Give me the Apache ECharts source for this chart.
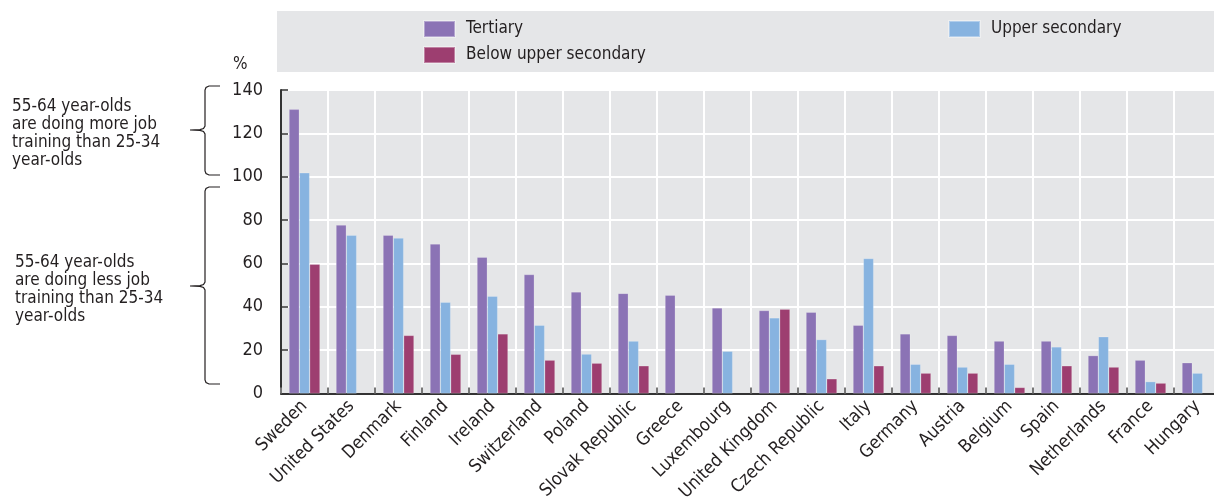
<!DOCTYPE html>
<html><head><meta charset="utf-8">
<script src="https://cdn.jsdelivr.net/npm/echarts@6/dist/echarts.min.js"></script>
<style>html,body{margin:0;padding:0;background:#fff}#c{width:1214px;height:501px}</style>
</head><body><div id="c"></div>
<script>
const categories = ['Sweden','United States','Denmark','Finland','Ireland','Switzerland','Poland','Slovak Republic','Greece','Luxembourg','United Kingdom','Czech Republic','Italy','Germany','Austria','Belgium','Spain','Netherlands','France','Hungary'];
const tertiary = [131.1,77.7,73,69,62.9,54.9,46.9,46.2,45.4,39.5,38.3,37.5,31.5,27.5,26.8,24.2,24.2,17.5,15.4,14.2];
const upperSecondary = [101.8,73,71.7,42.1,44.9,31.5,18.2,24.2,null,19.5,34.9,24.9,62.3,13.5,12.2,13.5,21.5,26.2,5.5,9.4];
const belowUpperSecondary = [59.7,null,26.8,18.1,27.5,15.4,14,12.8,null,null,38.9,6.8,12.8,9.4,9.4,2.8,12.8,12.2,4.8,null];
const yTicks = [0,20,40,60,80,100,120,140];
const annotationMore = '55-64 year-olds\nare doing more job\ntraining than 25-34\nyear-olds';
const annotationLess = '55-64 year-olds\nare doing less job\ntraining than 25-34\nyear-olds';

const FONT = "'Liberation Sans Narrow','DejaVu Sans Condensed','Roboto Condensed',sans-serif";
const TXT = '#231f20';
const chart = echarts.init(document.getElementById('c'), null, {renderer:'canvas'});

function brace(top, bottom, mid){
  const xr = 220, xv = 205, xt = 190;
  return {type:'polyline', silent:true,
    shape:{points:[[xr,top],[xv+4,top],[xv+1,top+1.5],[xv,top+4],[xv,mid-4],[xv-1.5,mid-1.5],[xv-5,mid-0.4],[xt,mid],[xv-5,mid+0.4],[xv-1.5,mid+1.5],[xv,mid+4],[xv,bottom-4],[xv+1,bottom-1.5],[xv+4,bottom],[xr,bottom]]},
    style:{stroke:'#231f20', lineWidth:1.2, fill:null}};
}

const mk = (name, data, color) => ({
  name, type:'bar', data, barGap:'0%', barCategoryGap:'34%',
  itemStyle:{color, borderColor:'rgba(255,255,255,0.35)', borderWidth:0.6},
  emphasis:{disabled:true}
});

chart.setOption({
  animation:false,
  textStyle:{fontFamily:FONT},
  graphic:[
    {type:'rect', silent:true, z:-10, shape:{x:277,y:11,width:940,height:61}, style:{fill:'#e5e6e8'}},
    {type:'text', left:233, top:56, style:{text:'%', font:'17px '+FONT, fill:TXT}},
    {type:'text', left:12, top:97, style:{text:annotationMore, font:'17px '+FONT, fill:TXT, lineHeight:18.3}},
    {type:'text', left:15, top:253, style:{text:annotationLess, font:'17px '+FONT, fill:TXT, lineHeight:18.3}},
    brace(86,175,130),
    brace(187,384,286)
  ],
  legend:[
    {data:['Tertiary','Below upper secondary'], orient:'vertical', left:418, top:15, itemWidth:31, itemHeight:16, itemGap:8, icon:'rect',
     textStyle:{fontSize:17, color:TXT, fontFamily:FONT, padding:[0,0,0,6]}, selectedMode:false},
    {data:['Upper secondary'], orient:'vertical', left:943, top:15, itemWidth:31, itemHeight:16, icon:'rect',
     textStyle:{fontSize:17, color:TXT, fontFamily:FONT, padding:[0,0,0,6]}, selectedMode:false}
  ],
  grid:{left:281, top:90, width:940, height:303.5, show:true, backgroundColor:'#e5e6e8', borderWidth:0, containLabel:false, outerBoundsMode:'none'},
  xAxis:{type:'category', data:categories,
    axisLine:{lineStyle:{color:'#333', width:2}},
    axisTick:{show:true, inside:true, length:6, lineStyle:{color:'#777', width:2}},
    splitLine:{show:true, lineStyle:{color:'#fff', width:2}},
    axisLabel:{rotate:45, fontSize:18, color:TXT, fontFamily:FONT, margin:10, interval:0}
  },
  yAxis:{type:'value', min:0, max:140, interval:20,
    axisLine:{show:true, lineStyle:{color:'#333', width:2}},
    axisTick:{show:true, inside:true, length:7, lineStyle:{color:'#333', width:1.5}},
    splitLine:{show:true, lineStyle:{color:'#fff', width:2}},
    axisLabel:{fontSize:18, color:TXT, fontFamily:FONT, margin:18, formatter:v => yTicks.includes(v) ? String(v) : ''}
  },
  series:[
    mk('Tertiary', tertiary, '#8b73b5'),
    mk('Upper secondary', upperSecondary, '#87b3e0'),
    mk('Below upper secondary', belowUpperSecondary, '#9d3e70')
  ]
});
</script></body></html>
